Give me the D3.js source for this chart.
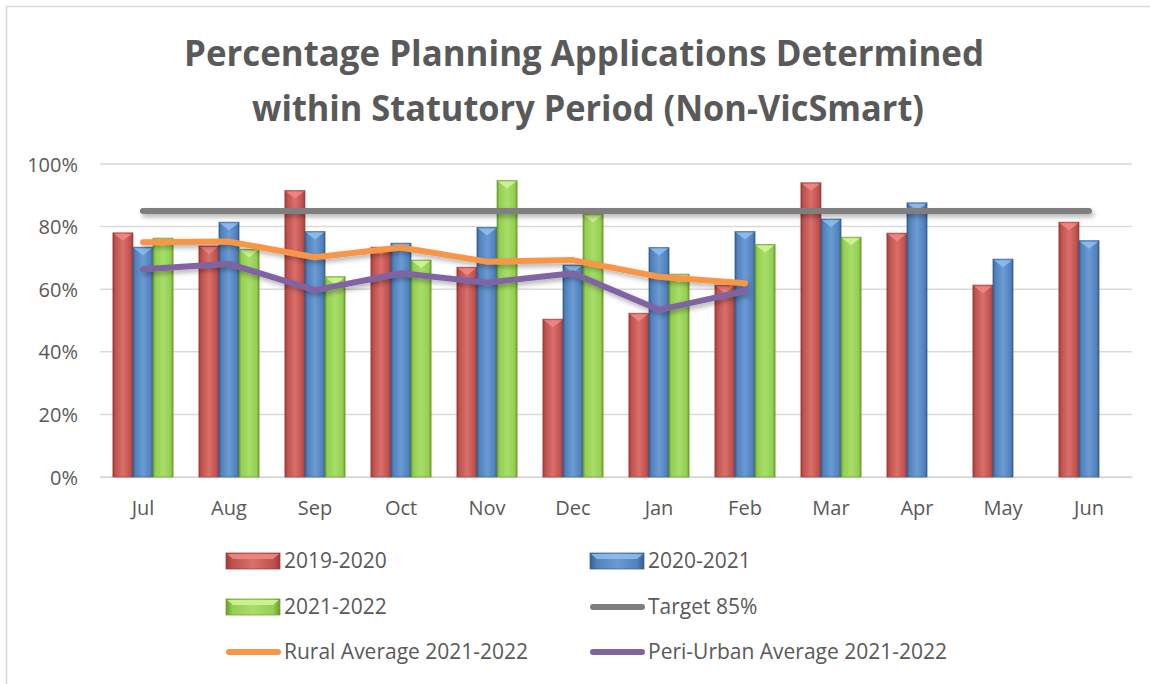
<!DOCTYPE html>
<html>
<head>
<meta charset="UTF-8">
<title>Planning Applications within Statutory Period</title>
<script src="https://cdnjs.cloudflare.com/ajax/libs/d3/7.8.5/d3.min.js"></script>
<style>
  body { margin: 0; background: #fff; }
  svg text { font-family: "Open Sans", "Liberation Sans", sans-serif; fill: #595959; }
</style>
</head>
<body>
<svg id="chart" width="1150" height="684"></svg>
<script>
// Chart data
var months = ["Jul", "Aug", "Sep", "Oct", "Nov", "Dec", "Jan", "Feb", "Mar", "Apr", "May", "Jun"];
var seriesNames = ["2019-2020", "2020-2021", "2021-2022"];
var values2019 = [78.0, 73.8, 91.5, 73.4, 67.0, 50.4, 52.3, 61.3, 94.0, 77.9, 61.3, 81.4];
var values2020 = [73.4, 81.4, 78.4, 74.7, 79.7, 67.7, 73.3, 78.4, 82.4, 87.6, 69.6, 75.5];
var values2021 = [76.3, 72.7, 64.0, 69.3, 94.7, 83.9, 64.8, 74.3, 76.6, null, null, null];
var targetValues = [85, 85, 85, 85, 85, 85, 85, 85, 85, 85, 85, 85];
var ruralAvg = [75.0, 75.2, 70.2, 73.3, 68.8, 69.3, 64.0, 61.9];
var periUrbanAvg = [66.4, 68.1, 59.7, 65.1, 62.1, 65.1, 53.4, 59.4];
var yTicks = [0, 20, 40, 60, 80, 100];

var svg = d3.select("#chart");

// outer chart frame (only top/left edge fall inside the window)
svg.append("rect")
  .attr("x", 6.5).attr("y", 6.5)
  .attr("width", 1160).attr("height", 700)
  .attr("fill", "none").attr("stroke", "#d9d9d9").attr("stroke-width", 1.5);

var defs = svg.append("defs");

// bevel-like gradients for the bars
var barColours = [
  { dark: "#9c3a37", mid: "#c0504d", light: "#d9706c", tri: "#f08a86" },
  { dark: "#365f91", mid: "#4f81bd", light: "#6c9bd2", tri: "#8fc0f0" },
  { dark: "#6f9a2c", mid: "#92d050", light: "#a9dd6a", tri: "#d2f59a" }
];
barColours.forEach(function(c, i) {
  var g = defs.append("linearGradient")
    .attr("id", "bar" + i)
    .attr("x1", "0").attr("x2", "1").attr("y1", "0").attr("y2", "0");
  g.append("stop").attr("offset", "0%").attr("stop-color", c.dark);
  g.append("stop").attr("offset", "12%").attr("stop-color", c.mid);
  g.append("stop").attr("offset", "50%").attr("stop-color", c.light);
  g.append("stop").attr("offset", "88%").attr("stop-color", c.mid);
  g.append("stop").attr("offset", "100%").attr("stop-color", c.dark);
});

// drop shadow for the lines; user space so a flat line still renders
var shadow = defs.append("filter").attr("id", "shadow")
  .attr("filterUnits", "userSpaceOnUse")
  .attr("x", 0).attr("y", 0).attr("width", 1150).attr("height", 684);
shadow.append("feDropShadow")
  .attr("dx", 2).attr("dy", 3).attr("stdDeviation", 2.5)
  .attr("flood-color", "#000").attr("flood-opacity", 0.3);

// Title
var title = svg.append("text")
  .attr("text-anchor", "middle")
  .style("font-size", "35px")
  .style("font-weight", "bold");
title.append("tspan").attr("x", 584).attr("y", 66)
  .attr("textLength", 800).attr("lengthAdjust", "spacingAndGlyphs")
  .text("Percentage Planning Applications Determined");
title.append("tspan").attr("x", 588).attr("y", 121)
  .attr("textLength", 672).attr("lengthAdjust", "spacingAndGlyphs")
  .text("within Statutory Period (Non-VicSmart)");

// Scales
var x = d3.scaleBand()
  .domain(months)
  .range([100, 1132])
  .paddingInner(0.3)
  .paddingOuter(0.15);

var xSub = d3.scaleBand()
  .domain(seriesNames)
  .range([0, x.bandwidth()]);

var y = d3.scaleLinear()
  .domain([0, 100])
  .range([477, 164]);

// gridlines
svg.append("g")
  .selectAll("line")
  .data(yTicks)
  .enter().append("line")
  .attr("x1", 100).attr("x2", 1132)
  .attr("y1", function(d) { return y(d); })
  .attr("y2", function(d) { return y(d); })
  .attr("stroke", "#d9d9d9")
  .attr("stroke-width", 1.5);

// y axis
var yAxis = svg.append("g")
  .attr("transform", "translate(86,0)")
  .call(d3.axisLeft(y).tickValues(yTicks).tickSize(0).tickPadding(8)
    .tickFormat(function(d) { return d + "%"; }));
yAxis.select(".domain").remove();
yAxis.selectAll("text")
  .style("font-size", "20px")
  .attr("fill", "#595959")
  .attr("dy", "0.35em");

// x axis
var xAxis = svg.append("g")
  .attr("transform", "translate(0,477)")
  .call(d3.axisBottom(x).tickSize(0).tickPadding(24));
xAxis.select(".domain").attr("stroke", "#d9d9d9").attr("stroke-width", 1.5);
xAxis.selectAll("text")
  .style("font-size", "20px")
  .attr("fill", "#595959");

// bars
var barSeries = [values2019, values2020, values2021];
var barData = [];
months.forEach(function(m, i) {
  barSeries.forEach(function(vals, s) {
    if (vals[i] != null) barData.push({ month: m, series: s, value: vals[i] });
  });
});

var bars = svg.append("g").selectAll("g.bar")
  .data(barData)
  .enter().append("g")
  .attr("class", "bar");

bars.append("rect")
  .attr("x", function(d) { return x(d.month) + xSub(seriesNames[d.series]); })
  .attr("y", function(d) { return y(d.value); })
  .attr("width", xSub.bandwidth())
  .attr("height", function(d) { return y(0) - y(d.value); })
  .attr("fill", function(d) { return "url(#bar" + d.series + ")"; })
  .attr("stroke", function(d) { return barColours[d.series].dark; })
  .attr("stroke-opacity", 0.7)
  .attr("stroke-width", 1);

// bevel triangle at the top of each bar
bars.append("path")
  .attr("d", function(d) {
    var x0 = x(d.month) + xSub(seriesNames[d.series]) + 1;
    var w = xSub.bandwidth() - 2;
    var y0 = y(d.value) + 1;
    return "M" + x0 + "," + y0 + "L" + (x0 + w) + "," + y0 + "L" + (x0 + w / 2) + "," + (y0 + 7) + "Z";
  })
  .attr("fill", function(d) { return barColours[d.series].tri; })
  .attr("opacity", 0.85);

// lines
var cx = function(d, i) { return x(months[i]) + x.bandwidth() / 2; };
var line = d3.line()
  .x(cx)
  .y(function(d) { return y(d); });

var lineSeries = [
  { name: "Target 85%", values: targetValues, colour: "#7f7f7f" },
  { name: "Rural Average 2021-2022", values: ruralAvg, colour: "#f79646" },
  { name: "Peri-Urban Average 2021-2022", values: periUrbanAvg, colour: "#8064a2" }
];

svg.append("g").selectAll("path")
  .data(lineSeries)
  .enter().append("path")
  .attr("d", function(d) { return line(d.values); })
  .attr("fill", "none")
  .attr("stroke", function(d) { return d.colour; })
  .attr("stroke-width", 6)
  .attr("stroke-linecap", "round")
  .attr("stroke-linejoin", "round")
  .attr("filter", "url(#shadow)");

// legend
var legendItems = [
  { name: seriesNames[0], type: "bar", idx: 0 },
  { name: seriesNames[1], type: "bar", idx: 1 },
  { name: seriesNames[2], type: "bar", idx: 2 },
  { name: lineSeries[0].name, type: "line", colour: lineSeries[0].colour },
  { name: lineSeries[1].name, type: "line", colour: lineSeries[1].colour },
  { name: lineSeries[2].name, type: "line", colour: lineSeries[2].colour }
];
var legendCols = [226, 590];
var legendRows = [561, 607, 652];

var legend = svg.append("g").selectAll("g")
  .data(legendItems)
  .enter().append("g")
  .attr("transform", function(d, i) {
    return "translate(" + legendCols[i % 2] + "," + legendRows[Math.floor(i / 2)] + ")";
  });

legend.filter(function(d) { return d.type === "bar"; })
  .each(function(d) {
    var g = d3.select(this);
    var c = barColours[d.idx];
    g.append("rect")
      .attr("x", 0).attr("y", -8).attr("width", 54).attr("height", 16)
      .attr("fill", "url(#bar" + d.idx + ")")
      .attr("stroke", c.dark).attr("stroke-opacity", 0.7);
    // flattened bevel highlight
    g.append("path")
      .attr("d", "M1,-7L53,-7L47,-2L7,-2Z")
      .attr("fill", c.tri).attr("opacity", 0.85);
  });

legend.filter(function(d) { return d.type === "line"; })
  .append("line")
  .attr("x1", 3).attr("x2", 52).attr("y1", 0).attr("y2", 0)
  .attr("stroke", function(d) { return d.colour; })
  .attr("stroke-width", 6)
  .attr("stroke-linecap", "round");

legend.append("text")
  .attr("x", 58)
  .attr("dy", "0.35em")
  .style("font-size", "21px")
  .text(function(d) { return d.name; });
</script>
</body>
</html>
